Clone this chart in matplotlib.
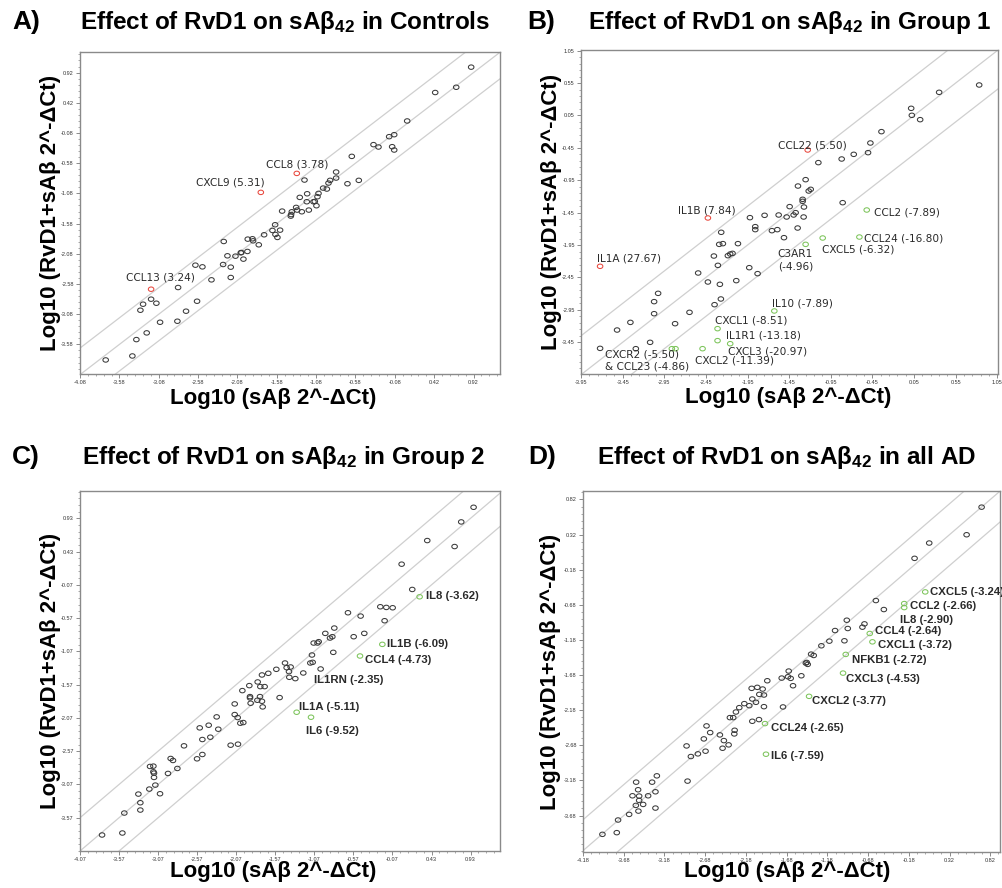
import numpy as np
import matplotlib
matplotlib.use("Agg")
import matplotlib.pyplot as plt
from matplotlib.ticker import AutoMinorLocator, FixedLocator, FormatStrFormatter


# ============================================================
# Data
# ============================================================

# ---- A) Controls ----
ctrl_pts = [
    (0.89, 1.01), (0.433, 0.59), (0.70, 0.677), (0.077, 0.119), (-0.152, -0.141),
    (-0.088, -0.108), (-0.351, -0.273), (-0.288, -0.312), (-0.114, -0.307), (-0.088, -0.362),
    (-0.627, -0.467), (-0.826, -0.726), (-0.826, -0.826), (-0.682, -0.92), (-0.538, -0.864),
    (-0.902, -0.864), (-0.923, -0.909), (-0.944, -1.008), (-0.991, -0.992), (-1.228, -0.859),
    (-1.194, -1.086), (-1.05, -1.08), (-1.063, -1.135), (-1.288, -1.146), (-1.199, -1.218),
    (-1.097, -1.213), (-1.114, -1.218), (-1.076, -1.284), (-1.173, -1.356), (-1.262, -1.384),
    (-1.321, -1.356), (-1.334, -1.312), (-1.389, -1.384), (-1.402, -1.456), (-1.398, -1.43),
    (-1.512, -1.373), (-1.601, -1.599), (-1.635, -1.693), (-1.538, -1.688), (-1.597, -1.76),
    (-1.572, -1.809), (-1.741, -1.765), (-1.889, -1.831), (-1.949, -1.837), (-1.881, -1.865),
    (-1.809, -1.931), (-1.953, -2.041), (-2.038, -2.063), (-2.03, -2.058), (-2.105, -2.119),
    (-2.207, -2.113), (-2.004, -2.168), (-2.254, -1.876), (-2.262, -2.257), (-2.165, -2.301),
    (-2.165, -2.472), (-2.525, -2.296), (-2.614, -2.268), (-2.41, -2.511), (-2.834, -2.638),
    (-3.177, -2.831), (-3.11, -2.898), (-3.279, -2.914), (-3.313, -3.014), (-2.593, -2.865),
    (-2.733, -3.030), (-2.843, -3.196), (-3.063, -3.213), (-3.233, -3.389), (-3.364, -3.5),
    (-3.415, -3.771), (-3.754, -3.837),
]
ctrl_up = [(-1.326, -0.749), (-1.783, -1.063), (-3.177, -2.666)]
ctrl_down = []
ctrl_labels = ["CCL8 (3.78)", "CXCL9 (5.31)", "CCL13 (3.24)"]
ctrl_label_xy = [(-1.72, -0.594), (-2.61, -0.903), (-3.495, -2.478)]
ctrl_xticks = [-4.08, -3.58, -3.08, -2.58, -2.08, -1.58, -1.08, -0.58, -0.08, 0.42, 0.92]
ctrl_yticks = [-3.58, -3.08, -2.58, -2.08, -1.58, -1.08, -0.58, -0.08, 0.42, 0.92]

# ---- B) Group 1 ----
g1_pts = [
    (0.833, 0.52), (0.352, 0.407), (0.016, 0.16), (0.024, 0.052), (0.124, -0.015),
    (-0.341, -0.2), (-0.474, -0.375), (-0.502, -0.524), (-0.674, -0.55), (-0.819, -0.622),
    (-1.099, -0.678), (-1.252, -0.941), (-1.344, -1.039), (-1.191, -1.09), (-1.215, -1.116),
    (-1.288, -1.244), (-1.288, -1.275), (-1.272, -1.363), (-1.444, -1.357), (-1.372, -1.45),
    (-1.396, -1.486), (-1.276, -1.517), (-1.48, -1.517), (-1.576, -1.486), (-1.745, -1.491),
    (-1.921, -1.527), (-1.857, -1.666), (-1.857, -1.712), (-1.657, -1.728), (-1.592, -1.712),
    (-1.348, -1.687), (-1.512, -1.836), (-0.807, -1.296), (-2.266, -1.753), (-2.29, -1.939),
    (-2.246, -1.928), (-2.065, -1.928), (-2.13, -2.078), (-2.158, -2.088), (-2.186, -2.114),
    (-2.354, -2.119), (-2.306, -2.263), (-1.929, -2.299), (-1.829, -2.391), (-2.085, -2.499),
    (-2.282, -2.556), (-2.426, -2.52), (-2.543, -2.381), (-2.27, -2.782), (-2.346, -2.87),
    (-2.647, -2.988), (-2.82, -3.163), (-3.024, -2.695), (-3.072, -2.823), (-3.072, -3.009),
    (-3.357, -3.143), (-3.517, -3.261), (-3.12, -3.451), (-3.292, -3.549), (-3.721, -3.544),
]
g1_up = [(-1.227, -0.483), (-2.426, -1.532), (-3.721, -2.278)]
g1_down = [
    (-0.518, -1.409), (-0.606, -1.826), (-1.047, -1.841), (-1.252, -1.939), (-1.628, -2.967),
    (-2.31, -3.24), (-2.31, -3.425), (-2.158, -3.472), (-2.49, -3.549), (-2.859, -3.549),
    (-2.815, -3.549),
]
g1_labels = ["CCL22 (5.50)", "IL1B (7.84)", "IL1A (27.67)", "CCL2 (-7.89)", "CCL24 (-16.80)",
             "CXCL5 (-6.32)", "C3AR1\n(-4.96)", "IL10 (-7.89)", "CXCL1 (-8.51)",
             "IL1R1 (-13.18)", "CXCL3 (-20.97)", "CXCL2 (-11.39)",
             "CXCR2 (-5.50)\n& CCL23 (-4.86)"]
g1_label_xy = [(-1.588, -0.416), (-2.791, -1.419), (-3.758, -2.16), (-0.425, -1.44),
               (-0.546, -1.851), (-1.059, -2.011), (-1.588, -2.186), (-1.657, -2.854),
               (-2.338, -3.112), (-2.21, -3.338), (-2.186, -3.595), (-2.583, -3.734),
               (-3.661, -3.734)]
g1_xticks = [-3.95, -3.45, -2.95, -2.45, -1.95, -1.45, -0.95, -0.45, 0.05, 0.55, 1.05]
g1_yticks = [-3.45, -2.95, -2.45, -1.95, -1.45, -0.95, -0.45, 0.05, 0.55, 1.05]

# ---- C) Group 2 ----
g2_pts = [
    (0.968, 1.095), (0.81, 0.875), (0.375, 0.595), (0.725, 0.505), (0.047, 0.24),
    (0.183, -0.14), (-0.226, -0.4), (-0.149, -0.41), (-0.068, -0.415), (-0.171, -0.61),
    (-0.64, -0.49), (-0.478, -0.54), (-0.815, -0.72), (-0.93, -0.8), (-0.84, -0.85),
    (-0.87, -0.87), (-0.567, -0.85), (-0.431, -0.8), (-1.015, -0.925), (-1.079, -0.945),
    (-1.03, -0.945), (-0.828, -1.085), (-1.101, -1.125), (-1.092, -1.235), (-1.122, -1.245),
    (-0.99, -1.335), (-1.212, -1.395), (-1.314, -1.48), (-1.391, -1.46), (-1.395, -1.375),
    (-1.374, -1.305), (-1.425, -1.315), (-1.446, -1.245), (-1.557, -1.34), (-1.66, -1.4),
    (-1.741, -1.425), (-1.796, -1.53), (-1.762, -1.6), (-1.707, -1.6), (-1.903, -1.585),
    (-1.992, -1.66), (-1.894, -1.75), (-1.894, -1.77), (-1.766, -1.75), (-1.8, -1.805),
    (-1.741, -1.82), (-1.732, -1.905), (-1.886, -1.85), (-1.515, -1.765), (-2.09, -1.86),
    (-2.09, -2.02), (-2.052, -2.065), (-2.018, -2.15), (-1.98, -2.14), (-2.321, -2.055),
    (-2.423, -2.18), (-2.3, -2.24), (-2.538, -2.22), (-2.402, -2.36), (-2.504, -2.395),
    (-2.739, -2.49), (-2.142, -2.48), (-2.048, -2.465), (-2.504, -2.62), (-2.572, -2.685),
    (-2.91, -2.68), (-2.88, -2.71), (-2.824, -2.83), (-2.944, -2.905), (-3.174, -2.8),
    (-3.131, -2.795), (-3.131, -2.88), (-3.123, -2.9), (-3.123, -2.965), (-3.106, -3.08),
    (-3.183, -3.14), (-3.046, -3.21), (-3.323, -3.215), (-3.298, -3.345), (-3.298, -3.455),
    (-3.503, -3.5), (-3.528, -3.8), (-3.788, -3.83),
]
g2_up = []
g2_down = [(0.277, -0.25), (-0.2, -0.965), (-0.486, -1.14), (-1.297, -1.985), (-1.113, -2.06)]
g2_labels = ["IL8 (-3.62)", "IL1B (-6.09)", "CCL4 (-4.73)", "IL1RN (-2.35)",
             "IL1A (-5.11)", "IL6 (-9.52)"]
g2_label_xy = [(0.354, -0.245), (-0.145, -0.955), (-0.418, -1.205), (-1.075, -1.505),
               (-1.263, -1.905), (-1.182, -2.26)]
g2_xticks = [-4.07, -3.57, -3.07, -2.57, -2.07, -1.57, -1.07, -0.57, -0.07, 0.43, 0.93]
g2_yticks = [-3.57, -3.07, -2.57, -2.07, -1.57, -1.07, -0.57, -0.07, 0.43, 0.93]

# ---- D) all AD ----
ad_pts = [
    (0.713, 0.711), (0.529, 0.318), (0.07, 0.2), (-0.11, -0.018), (-0.585, -0.619),
    (-0.487, -0.747), (-0.942, -0.899), (-0.93, -1.017), (-0.725, -0.951), (-0.75, -0.998),
    (-1.086, -1.046), (-0.971, -1.192), (-1.156, -1.197), (-1.254, -1.263), (-1.38, -1.382),
    (-1.348, -1.401), (-1.434, -1.5), (-1.422, -1.528), (-1.445, -1.51), (-1.655, -1.623),
    (-1.5, -1.69), (-1.664, -1.704), (-1.741, -1.723), (-1.631, -1.727), (-1.602, -1.832),
    (-1.918, -1.761), (-2.11, -1.869), (-2.041, -1.855), (-1.975, -1.879), (-2.016, -1.955),
    (-1.959, -1.964), (-2.102, -2.021), (-2.057, -2.068), (-2.139, -2.116), (-1.959, -2.13),
    (-2.2, -2.087), (-2.262, -2.144), (-2.303, -2.206), (-2.336, -2.286), (-2.377, -2.286),
    (-2.102, -2.338), (-2.02, -2.314), (-1.725, -2.134), (-2.319, -2.466), (-2.323, -2.518),
    (-2.393, -2.674), (-2.451, -2.613), (-2.467, -2.722), (-2.5, -2.532), (-2.619, -2.499),
    (-2.664, -2.404), (-2.697, -2.589), (-2.676, -2.764), (-2.77, -2.802), (-2.856, -2.84),
    (-2.909, -2.689), (-2.897, -3.19), (-3.274, -3.115), (-3.332, -3.205), (-3.291, -3.342),
    (-3.291, -3.574), (-3.381, -3.399), (-3.528, -3.205), (-3.504, -3.313), (-3.573, -3.399),
    (-3.491, -3.403), (-3.491, -3.465), (-3.442, -3.522), (-3.532, -3.536), (-3.5, -3.617),
    (-3.614, -3.664), (-3.75, -3.744), (-3.766, -3.924), (-3.942, -3.948),
]
ad_up = []
ad_down = [
    (0.021, -0.496), (-0.237, -0.662), (-0.237, -0.719), (-0.66, -1.088), (-0.627, -1.207),
    (-0.955, -1.386), (-0.988, -1.652), (-1.405, -1.983), (-1.946, -2.371), (-1.934, -2.807),
]
ad_labels = ["CXCL5 (-3.24)", "CCL2 (-2.66)", "IL8 (-2.90)", "CCL4 (-2.64)", "CXCL1 (-3.72)",
             "NFKB1 (-2.72)", "CXCL3 (-4.53)", "CXCL2 (-3.77)", "CCL24 (-2.65)", "IL6 (-7.59)"]
ad_label_xy = [(0.082, -0.501), (-0.172, -0.69), (-0.291, -0.899), (-0.59, -1.055),
               (-0.561, -1.259), (-0.873, -1.467), (-0.95, -1.737), (-1.364, -2.054),
               (-1.877, -2.433), (-1.877, -2.831)]
ad_xticks = [-4.18, -3.68, -3.18, -2.68, -2.18, -1.68, -1.18, -0.68, -0.18, 0.32, 0.82]
ad_yticks = [-3.68, -3.18, -2.68, -2.18, -1.68, -1.18, -0.68, -0.18, 0.32, 0.82]

panel_letters = ["A)", "B)", "C)", "D)"]
panel_groups = ["Controls", "Group 1", "Group 2", "all AD"]
fold_offsets = [0.44, 0.60, 0.50, 0.44]


# ============================================================
# Style
# ============================================================

plt.rcParams["font.family"] = ["Liberation Sans", "DejaVu Sans"]
plt.rcParams["mathtext.fontset"] = "custom"
plt.rcParams["mathtext.rm"] = "Liberation Sans:bold"
plt.rcParams["mathtext.it"] = "Liberation Sans:bold"
plt.rcParams["mathtext.bf"] = "Liberation Sans:bold"

BLACK = "#3a3a3a"
RED = "#e8473d"
GREEN = "#7cc45a"
LINE = "#cfcfcf"

XLABEL = "Log10 (sAβ 2^-ΔCt)"
YLABEL = "Log10 (RvD1+sAβ 2^-ΔCt)"

# slightly wide open circle, like the original export
_t = np.linspace(0, 2 * np.pi, 41)
OVAL = np.column_stack([1.25 * np.cos(_t), np.sin(_t)])


# ============================================================
# Layout (figure fractions)
# ============================================================

axes_rects = [
    [0.0798, 0.5788, 0.4190, 0.3626],
    [0.5793, 0.5788, 0.4158, 0.3649],
    [0.0798, 0.0417, 0.4190, 0.4054],
    [0.5813, 0.0405, 0.4158, 0.4065],
]
limits = [
    ((-4.08, 1.26), (-4.07, 1.26)),
    ((-3.95, 1.06), (-3.94, 1.06)),
    ((-4.07, 1.31), (-4.07, 1.34)),
    ((-4.18, 0.94), (-4.20, 0.94)),
]
xlabel_coords = [(0.46, -0.0745), (0.496, -0.071), (0.46, -0.058), (0.49, -0.055)]
ylabel_coords = [(-0.071, 0.5), (-0.072, 0.5), (-0.071, 0.5), (-0.077, 0.5)]
letter_pos = [(0.012, 0.975), (0.526, 0.975), (0.012, 0.485), (0.527, 0.485)]
title_pos = [(0.080, 0.975), (0.586, 0.975), (0.082, 0.485), (0.595, 0.485)]
# A/B use a plain label font, C/D a bold one
label_fonts = [
    dict(family="DejaVu Sans", fontsize=7.6, color="#2a2a2a"),
    dict(family="DejaVu Sans", fontsize=7.6, color="#2a2a2a"),
    dict(family="Liberation Sans", fontweight="bold", fontsize=8.2, color="#2a2a2a"),
    dict(family="Liberation Sans", fontweight="bold", fontsize=8.2, color="#2a2a2a"),
]


# ============================================================
# Plot
# ============================================================

def scatter_pts(ax, pts, color, lw=0.75):
    if not pts:
        return
    xs, ys = zip(*pts)
    ax.scatter(xs, ys, s=16, marker=OVAL, facecolors="none", edgecolors=color,
               linewidths=lw, zorder=3)


def draw_panel(ax, i, base, up, down, labels, label_xy, xticks, yticks):

    off = fold_offsets[i]
    for c in (-off, 0.0, off):
        ax.axline((0.0, c), slope=1.0, color=LINE, lw=0.9, zorder=1)

    scatter_pts(ax, base, BLACK)
    scatter_pts(ax, up, RED)
    scatter_pts(ax, down, GREEN)

    for txt, (tx, ty) in zip(labels, label_xy):
        ax.text(tx, ty, txt, ha="left", va="center", linespacing=1.25,
                zorder=4, **label_fonts[i])

    (x0, x1), (y0, y1) = limits[i]
    ax.set_xlim(x0, x1)
    ax.set_ylim(y0, y1)

    ax.xaxis.set_major_locator(FixedLocator(xticks))
    ax.yaxis.set_major_locator(FixedLocator(yticks))
    ax.xaxis.set_major_formatter(FormatStrFormatter("%.2f"))
    ax.yaxis.set_major_formatter(FormatStrFormatter("%.2f"))
    ax.xaxis.set_minor_locator(AutoMinorLocator(5))
    ax.yaxis.set_minor_locator(AutoMinorLocator(5))

    ax.tick_params(which="major", direction="out", length=3, width=0.6,
                   color="#777777", labelsize=4, labelcolor="#333333", pad=1.5)
    ax.tick_params(which="minor", direction="out", length=1.6, width=0.5,
                   color="#888888")

    for sp in ax.spines.values():
        sp.set_color("#8a8a8a")
        sp.set_linewidth(1.0)

    ax.set_xlabel(XLABEL, fontsize=16, fontweight="bold", va="center")
    ax.set_ylabel(YLABEL, fontsize=16, fontweight="bold", va="center")
    ax.xaxis.set_label_coords(*xlabel_coords[i])
    ax.yaxis.set_label_coords(*ylabel_coords[i])


fig = plt.figure(figsize=(10.03, 8.88), dpi=100)

panels = [
    (ctrl_pts, ctrl_up, ctrl_down, ctrl_labels, ctrl_label_xy, ctrl_xticks, ctrl_yticks),
    (g1_pts, g1_up, g1_down, g1_labels, g1_label_xy, g1_xticks, g1_yticks),
    (g2_pts, g2_up, g2_down, g2_labels, g2_label_xy, g2_xticks, g2_yticks),
    (ad_pts, ad_up, ad_down, ad_labels, ad_label_xy, ad_xticks, ad_yticks),
]

for i, p in enumerate(panels):
    ax = fig.add_axes(axes_rects[i])
    draw_panel(ax, i, *p)

    fig.text(*letter_pos[i], panel_letters[i], fontsize=19, fontweight="bold",
             ha="left", va="center")
    fig.text(*title_pos[i], "Effect of RvD1 on sAβ$_{42}$ in " + panel_groups[i],
             fontsize=17.5, fontweight="bold", ha="left", va="center")

fig.savefig("out.png", dpi=100)
